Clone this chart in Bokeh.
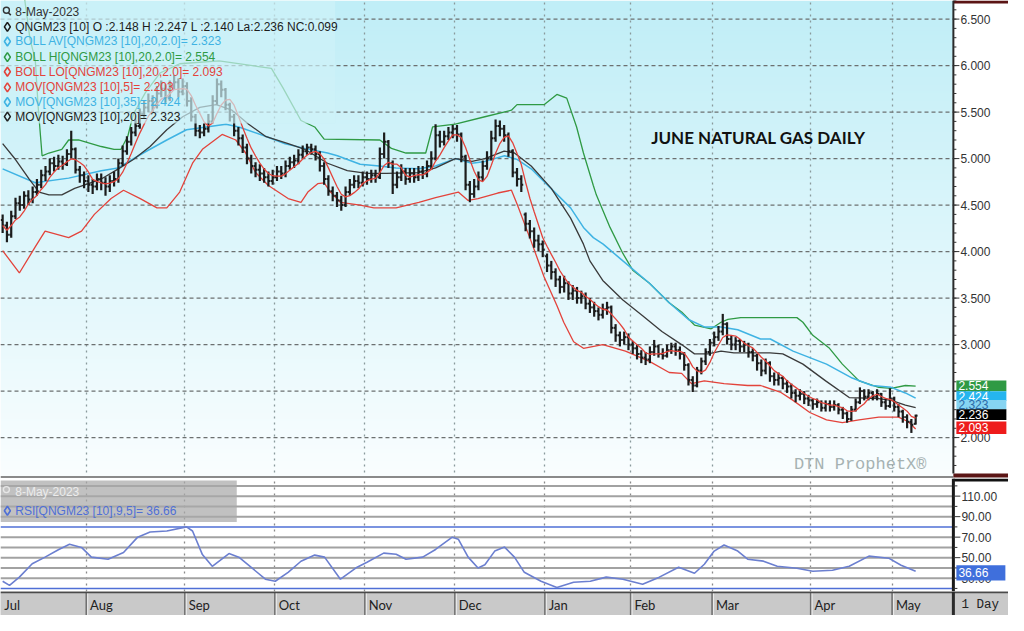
import numpy as np
import pandas as pd
from bokeh.plotting import figure
from bokeh.models import Range1d, FixedTicker, Grid
from bokeh.layouts import column
from bokeh.embed import file_html
from bokeh.resources import INLINE
from bokeh.core.properties import value

# ---------------- data ----------------
months = ["Jul", "Aug", "Sep", "Oct", "Nov", "Dec", "Jan", "Feb", "Mar", "Apr", "May"]
month_start = [0, 20, 43, 64, 85, 106, 127, 147, 166, 189, 208]   # trading-day index of first session

close = [4.28, 4.18, 4.38, 4.52, 4.50, 4.60, 4.56, 4.64, 4.72, 4.82, 4.86, 4.95, 4.92, 4.97, 4.94, 5.05, 5.10, 4.88, 4.82, 4.76,
         4.72, 4.70, 4.78, 4.74, 4.70, 4.76, 4.78, 4.95, 5.08, 5.18, 5.28, 5.35, 5.48, 5.55, 5.62, 5.58, 5.70, 5.75, 5.66, 5.78, 5.82, 5.72, 5.78,
         5.62, 5.45, 5.30, 5.28, 5.32, 5.40, 5.62, 5.80, 5.74, 5.58, 5.45, 5.30, 5.22, 5.12, 5.00, 4.92, 4.88, 4.84, 4.80, 4.76, 4.80,
         4.86, 4.84, 4.92, 4.96, 4.98, 5.04, 5.08, 5.12, 5.10, 5.05, 4.92, 4.78, 4.65, 4.60, 4.55, 4.50, 4.64, 4.72, 4.76, 4.74, 4.80,
         4.78, 4.82, 4.80, 5.05, 5.18, 4.95, 4.72, 4.80, 4.86, 4.78, 4.84, 4.80, 4.86, 4.84, 4.92, 5.00, 5.25, 5.18, 5.24, 5.28, 5.32,
         5.26, 5.02, 4.72, 4.62, 4.70, 4.80, 4.92, 5.00, 5.22, 5.35, 5.32, 5.25, 5.08, 4.85, 4.78, 4.72, 4.30, 4.22, 4.12, 4.08, 4.02,
         3.85, 3.78, 3.70, 3.62, 3.66, 3.55, 3.58, 3.50, 3.52, 3.44, 3.40, 3.36, 3.32, 3.38, 3.40, 3.18, 3.10, 3.05, 3.08, 3.00,
         2.96, 2.90, 2.86, 2.84, 2.92, 2.98, 2.90, 2.88, 2.94, 2.98, 2.94, 2.90, 2.78, 2.62, 2.56, 2.72, 2.82, 2.92, 3.02,
         3.08, 3.14, 3.22, 3.06, 3.00, 3.04, 2.98, 3.00, 2.92, 2.88, 2.80, 2.72, 2.80, 2.66, 2.62, 2.64, 2.58, 2.55, 2.48, 2.45, 2.47, 2.42, 2.40,
         2.36, 2.38, 2.32, 2.36, 2.33, 2.35, 2.30, 2.26, 2.20, 2.30, 2.38, 2.50, 2.44, 2.48, 2.44, 2.47, 2.38, 2.34, 2.42,
         2.33, 2.28, 2.22, 2.17, 2.137, 2.236]

open_ = [4.34, 4.28, 4.18, 4.38, 4.52, 4.50, 4.60, 4.56, 4.64, 4.72, 4.82, 4.86, 4.95, 4.92, 4.97, 4.94, 5.05, 5.10, 4.88, 4.82,
         4.76, 4.72, 4.70, 4.78, 4.74, 4.70, 4.76, 4.78, 4.95, 5.08, 5.18, 5.28, 5.35, 5.48, 5.55, 5.62, 5.58, 5.70, 5.75, 5.66, 5.78, 5.82, 5.72,
         5.78, 5.62, 5.45, 5.30, 5.28, 5.32, 5.40, 5.62, 5.80, 5.74, 5.58, 5.45, 5.30, 5.22, 5.12, 5.00, 4.92, 4.88, 4.84, 4.80, 4.76,
         4.80, 4.86, 4.84, 4.92, 4.96, 4.98, 5.04, 5.08, 5.12, 5.10, 5.05, 4.92, 4.78, 4.65, 4.60, 4.55, 4.50, 4.64, 4.72, 4.76, 4.74,
         4.80, 4.78, 4.82, 4.80, 5.05, 5.18, 4.95, 4.72, 4.80, 4.86, 4.78, 4.84, 4.80, 4.86, 4.84, 4.92, 5.00, 5.25, 5.18, 5.24, 5.28,
         5.32, 5.26, 5.02, 4.72, 4.62, 4.70, 4.80, 4.92, 5.00, 5.22, 5.35, 5.32, 5.25, 5.08, 4.85, 4.78, 4.40, 4.30, 4.22, 4.12, 4.08,
         3.95, 3.85, 3.78, 3.70, 3.62, 3.66, 3.55, 3.58, 3.50, 3.52, 3.44, 3.40, 3.36, 3.32, 3.38, 3.40, 3.18, 3.10, 3.05, 3.08,
         3.00, 2.96, 2.90, 2.86, 2.84, 2.92, 2.98, 2.90, 2.88, 2.94, 2.98, 2.94, 2.90, 2.78, 2.62, 2.56, 2.72, 2.82, 2.92,
         3.02, 3.08, 3.14, 3.22, 3.06, 3.00, 3.04, 2.98, 3.00, 2.92, 2.88, 2.80, 2.72, 2.80, 2.66, 2.62, 2.64, 2.58, 2.55, 2.48, 2.45, 2.47, 2.42,
         2.40, 2.36, 2.38, 2.32, 2.36, 2.33, 2.35, 2.30, 2.26, 2.20, 2.30, 2.38, 2.50, 2.44, 2.48, 2.44, 2.47, 2.38, 2.34,
         2.42, 2.33, 2.28, 2.22, 2.17, 2.148]

high = [4.40, 4.32, 4.44, 4.58, 4.60, 4.65, 4.66, 4.70, 4.78, 4.88, 4.92, 5.00, 5.02, 5.04, 5.03, 5.10, 5.30, 5.12, 4.92, 4.86,
        4.82, 4.78, 4.84, 4.84, 4.80, 4.82, 4.86, 5.00, 5.14, 5.24, 5.34, 5.42, 5.54, 5.62, 5.70, 5.68, 5.78, 5.84, 5.80, 5.84, 5.90, 5.86, 5.86,
        5.82, 5.66, 5.48, 5.36, 5.38, 5.48, 5.68, 5.86, 5.84, 5.76, 5.60, 5.48, 5.34, 5.26, 5.16, 5.04, 4.96, 4.94, 4.90, 4.86, 4.88,
        4.92, 4.92, 4.98, 5.02, 5.04, 5.10, 5.14, 5.16, 5.16, 5.14, 5.08, 4.96, 4.82, 4.70, 4.64, 4.60, 4.70, 4.78, 4.82, 4.82, 4.86,
        4.86, 4.88, 4.88, 5.12, 5.28, 5.20, 4.98, 4.86, 4.94, 4.90, 4.90, 4.90, 4.92, 4.92, 4.98, 5.08, 5.37, 5.30, 5.30, 5.34, 5.36,
        5.36, 5.28, 5.04, 4.76, 4.78, 4.86, 4.98, 5.08, 5.30, 5.42, 5.41, 5.36, 5.28, 5.10, 4.90, 4.82, 4.42, 4.34, 4.26, 4.18, 4.12,
        3.98, 3.90, 3.82, 3.74, 3.74, 3.68, 3.64, 3.62, 3.58, 3.56, 3.50, 3.46, 3.40, 3.44, 3.46, 3.42, 3.22, 3.14, 3.14, 3.12,
        3.04, 3.00, 2.94, 2.92, 2.98, 3.05, 3.00, 2.96, 3.00, 3.02, 3.02, 2.98, 2.92, 2.80, 2.66, 2.76, 2.86, 2.96, 3.06,
        3.14, 3.20, 3.33, 3.24, 3.10, 3.08, 3.06, 3.04, 3.02, 2.96, 2.90, 2.84, 2.85, 2.82, 2.70, 2.70, 2.66, 2.62, 2.58, 2.52, 2.52, 2.50, 2.46,
        2.42, 2.42, 2.40, 2.40, 2.40, 2.40, 2.37, 2.33, 2.28, 2.34, 2.42, 2.54, 2.52, 2.52, 2.50, 2.52, 2.48, 2.42, 2.53,
        2.44, 2.36, 2.30, 2.25, 2.20, 2.247]

low = [4.20, 4.10, 4.15, 4.35, 4.44, 4.46, 4.50, 4.52, 4.60, 4.68, 4.76, 4.82, 4.86, 4.88, 4.88, 4.92, 5.00, 4.84, 4.74, 4.68,
       4.64, 4.62, 4.66, 4.66, 4.60, 4.64, 4.70, 4.74, 4.92, 5.04, 5.14, 5.24, 5.32, 5.44, 5.50, 5.50, 5.54, 5.66, 5.60, 5.62, 5.74, 5.66, 5.68,
       5.56, 5.40, 5.24, 5.22, 5.24, 5.28, 5.38, 5.58, 5.66, 5.52, 5.40, 5.24, 5.14, 5.06, 4.94, 4.84, 4.80, 4.76, 4.74, 4.70, 4.72,
       4.76, 4.78, 4.80, 4.88, 4.90, 4.94, 5.00, 5.04, 5.04, 4.98, 4.86, 4.72, 4.60, 4.54, 4.48, 4.44, 4.48, 4.60, 4.68, 4.68, 4.70,
       4.72, 4.74, 4.74, 4.78, 5.00, 4.90, 4.62, 4.68, 4.76, 4.72, 4.74, 4.74, 4.76, 4.78, 4.80, 4.88, 4.98, 5.12, 5.14, 5.20, 5.22,
       5.18, 4.96, 4.66, 4.53, 4.58, 4.66, 4.76, 4.88, 4.98, 5.18, 5.24, 5.18, 5.02, 4.80, 4.70, 4.64, 4.22, 4.14, 4.04, 4.00, 3.94,
       3.78, 3.70, 3.62, 3.55, 3.56, 3.48, 3.48, 3.44, 3.44, 3.38, 3.34, 3.30, 3.26, 3.28, 3.32, 3.12, 3.03, 2.98, 3.00, 2.94,
       2.90, 2.84, 2.80, 2.78, 2.80, 2.88, 2.86, 2.84, 2.86, 2.90, 2.88, 2.84, 2.72, 2.56, 2.49, 2.54, 2.68, 2.78, 2.88,
       2.98, 3.04, 3.10, 3.00, 2.94, 2.94, 2.92, 2.92, 2.86, 2.82, 2.72, 2.66, 2.68, 2.60, 2.56, 2.56, 2.52, 2.48, 2.42, 2.38, 2.40, 2.36, 2.34,
       2.30, 2.32, 2.28, 2.28, 2.28, 2.29, 2.25, 2.20, 2.16, 2.18, 2.28, 2.36, 2.40, 2.40, 2.40, 2.40, 2.33, 2.30, 2.32,
       2.28, 2.22, 2.16, 2.10, 2.05, 2.140]

# indicator lines (trading-day index, value)
bbh_day = [0, 4.6, 6.4, 7.6, 8.3, 9.2, 10.8, 13.8, 15.4, 17.7, 23, 26, 27.6, 29.2, 30.5, 33.3, 36.7, 41.3, 50.5, 59.7, 62.7,
           65.4, 69.6, 72.8, 75, 88, 90.7, 94.1, 98.7, 100.3, 105.6, 112.5, 118.7, 120, 126.3, 129.3, 131.6, 133.9, 135.5,
           137.8, 138.5, 141.7, 144.7, 147, 150.9, 155.5, 158.4, 161.4, 165.3, 167.6, 169.2, 172.2, 185.3, 186.7, 189,
           192.9, 195.9, 199.8, 204.4, 207.3, 210.6, 213]
bbh_val = [7.3, 6.9, 6.28, 6.07, 5.55, 5.03, 5.06, 5.10, 5.20, 5.20, 5.13, 5.10, 5.10, 5.24, 5.48, 5.71, 5.92, 6.02, 6.05, 5.99, 5.97,
           5.76, 5.41, 5.34, 5.21, 5.20, 5.11, 5.06, 5.06, 5.34, 5.37, 5.45, 5.52, 5.58, 5.58, 5.69, 5.65, 5.34, 5.06,
           4.71, 4.61, 4.26, 3.98, 3.80, 3.66, 3.45, 3.35, 3.21, 3.17, 3.24, 3.27, 3.29, 3.29, 3.24, 3.10,
           2.96, 2.79, 2.61, 2.54, 2.53, 2.56, 2.554]

bbl_day = [0, 3.9, 7.6, 9.9, 15.4, 18.4, 21.4, 25.3, 28.2, 32.1, 36, 38.3, 41.3, 44.3, 46.6, 51.2, 54.4, 56.7, 59, 62, 66.6,
           69.6, 71.2, 73.5, 75, 76.5, 78.8, 83.4, 86.6, 91.8, 97.1, 101, 106.3, 108.6, 110.9, 115.5, 118.7, 120.1, 123.3,
           126.3, 129.3, 130.9, 133.2, 135.5, 140, 145.3, 150.9, 155.5, 158.4, 160.7, 163.7, 168.3, 173.8, 176.8, 181.4,
           184.4, 188.3, 192.2, 195.9, 199.8, 204.4, 209, 211.3, 213]
bbl_val = [4.01, 3.77, 4.05, 4.22, 4.15, 4.22, 4.40, 4.57, 4.66, 4.57, 4.47, 4.47, 4.64, 4.95, 5.10, 5.26, 5.20, 5.06, 4.85, 4.71, 4.57,
           4.53, 4.64, 4.73, 4.74, 4.64, 4.53, 4.50, 4.47, 4.47, 4.53, 4.58, 4.64, 4.55, 4.57, 4.63, 4.66, 4.50, 4.11,
           3.73, 3.42, 3.24, 3.03, 2.96, 3.00, 2.93, 2.82, 2.70, 2.69, 2.58, 2.61, 2.58, 2.56, 2.56, 2.49,
           2.40, 2.27, 2.19, 2.16, 2.19, 2.22, 2.22, 2.17, 2.093]

ma20_day = [0, 3, 6.2, 8.5, 10.8, 13.8, 16.8, 20, 23, 27, 30.5, 34.4, 38.3, 42, 46, 49.8, 53.5, 57.4, 61.3, 66.6, 70.5, 75.8,
            80.4, 85, 89.5, 97, 101, 105.6, 109.5, 112.5, 117, 119.4, 123.3, 128, 132.5, 135.5, 137, 140, 144.7, 149.3,
            153.8, 158.4, 161.4, 164.6, 167.6, 170.6, 179, 182, 186.7, 192, 197.5, 204.4, 207.3, 210.6, 213]
ma20_val = [5.16, 4.99, 4.78, 4.64, 4.61, 4.61, 4.68, 4.73, 4.78, 4.89, 4.99, 5.13, 5.31, 5.45, 5.55, 5.58, 5.52, 5.37, 5.24, 5.16, 5.10, 4.95,
            4.87, 4.84, 4.84, 4.85, 4.90, 5.00, 4.97, 5.00, 5.08, 5.06, 4.92, 4.68, 4.36, 4.08, 3.90, 3.69, 3.48, 3.31,
            3.14, 3.00, 2.90, 2.90, 2.93, 2.91, 2.91, 2.90, 2.79, 2.61, 2.43, 2.42, 2.40, 2.35, 2.323]

ma35_day = [0, 7.6, 15.4, 23, 26.9, 32.8, 38.3, 42.9, 47.5, 52.1, 55.1, 61.3, 65.9, 70.5, 75.8, 78.1, 83.4, 87.9, 91.8, 97.1,
            101, 105.6, 109.5, 112.5, 117.1, 120.1, 123.3, 127.9, 132.5, 135.5, 137.8, 140.1, 144.7, 150.9, 155.5, 160,
            163.7, 167.6, 171.5, 176.8, 179.1, 184.4, 192.2, 198.2, 202.8, 207.3, 210.6, 213]
ma35_val = [4.89, 4.74, 4.79, 4.87, 4.90, 5.06, 5.20, 5.31, 5.34, 5.37, 5.34, 5.24, 5.16, 5.11, 5.06, 5.03, 4.94, 4.92, 4.90, 4.89,
            4.92, 5.00, 4.95, 4.97, 5.03, 4.99, 4.89, 4.68, 4.47, 4.26, 4.15, 4.08, 3.90, 3.66, 3.45, 3.27,
            3.19, 3.19, 3.16, 3.06, 3.06, 2.93, 2.79, 2.64, 2.56, 2.54, 2.48, 2.424]

rsi_day = [0, 1.6, 3.9, 6.9, 9.9, 13.1, 15.6, 18.4, 20.7, 24.6, 28.2, 31.5, 34.4, 38.3, 42.9, 44.3, 46.6, 48.9, 52.8, 55.1,
           59, 61.3, 63.6, 66.6, 69.6, 72.8, 75.1, 78.8, 82.7, 85, 88.9, 91.8, 94.1, 98, 101, 104.9, 106.3, 108.6, 110.9,
           112.5, 114.8, 117.1, 119.4, 121.7, 125.6, 129.3, 133.2, 137.1, 140.8, 144.7, 149.3, 153.2, 157.7, 161.4, 163.7,
           166, 168.3, 171.5, 173.8, 177.5, 180.7, 185.3, 189, 193.6, 197.5, 202.1, 206.7, 209.6, 213]
rsi_val = [27, 23, 31, 44, 50.5, 58, 63, 60, 50.5, 48.5, 55, 70, 75, 76, 80, 76, 53, 41.6, 54, 50.5,
           37, 29, 27, 35.7, 46.5, 52.5, 50.5, 29, 40.7, 45.6, 54.4, 53.4, 48.5, 50.5, 58, 70, 68, 50.5, 40,
           43, 56.4, 60.3, 50.5, 35.7, 27, 21, 26, 27, 31, 29, 24, 31, 40.7, 34.8, 43.6,
           56.4, 62.3, 56.4, 48.5, 46.6, 41.6, 39.7, 36.7, 37.7, 41.6, 51.5, 49.5, 42.6, 36.66]

legend_texts = ["8-May-2023",
                "QNGM23 [10] O :2.148 H :2.247 L :2.140 La:2.236 NC:0.099",
                "BOLL AV[QNGM23 [10],20,2.0]= 2.323",
                "BOLL H[QNGM23 [10],20,2.0]= 2.554",
                "BOLL LO[QNGM23 [10],20,2.0]= 2.093",
                "MOV[QNGM23 [10],5]= 2.203",
                "MOV[QNGM23 [10],35]= 2.424",
                "MOV[QNGM23 [10],20]= 2.323"]
price_tag_text = ["2.554", "2.424", "2.323", "2.236", "2.093"]
price_ticks = [2.0, 2.5, 3.0, 3.5, 4.0, 4.5, 5.0, 5.5, 6.0, 6.5]
price_tick_labels = ["2.000", "2.500", "3.000", "3.500", "4.000", "4.500", "5.000", "5.500", "6.000", "6.500"]
rsi_ticks = [30, 50, 70, 90, 110]
rsi_tick_labels = ["30.00", "50.00", "70.00", "90.00", "110.00"]
rsi_last = "36.66"

# ---------------- geometry helpers (reference pixel -> data) ----------------
FW, PH, RH, SH = 1008, 478, 113, 24
XS, XE = -0.5, 221.8                 # XE = position of the price axis line
REF_W = 968.0
DPX = (XE - XS) / (REF_W * FW / 1024.0)   # data units per screen pixel
SXE = XS + FW * DPX
YMIN, YMAX = 1.56, 6.70
RMIN, RMAX = 17.0, 127.2

def rx(px):
    return XS + px / REF_W * (XE - XS)

def ry(py):
    return YMAX - py / 490.0 * (YMAX - YMIN)

def rr(py):
    return RMAX - (py - 495.0) / 112.0 * (RMAX - RMIN)

BLACK = "#1c1c1c"
CYAN = "#3fb3e3"
GREEN = "#2f9a44"
RED = "#e3433b"
RSI_BLUE = "#6b7fd0"
LINE_BLUE = "#4f6fd6"
FONT = value("Liberation Sans")

days = np.arange(len(close))
month_edges = [m - 0.5 for m in month_start]
xr = Range1d(XS, SXE)

def base_fig(h, yr):
    f = figure(frame_width=FW, frame_height=h, x_range=xr, y_range=yr,
               x_axis_location=None, y_axis_location=None, toolbar_location=None, output_backend="svg",
               min_border_left=0, min_border_right=0, min_border_top=0, min_border_bottom=0,
               background_fill_color="white", border_fill_color="white", outline_line_color=None)
    f.xgrid.visible = False
    f.ygrid.visible = False
    return f

# ---------------- price panel ----------------
p = base_fig(PH, Range1d(YMIN, YMAX))

N = 240
img = np.empty((N, 1), dtype=np.uint32)
view = img.view(dtype=np.uint8).reshape((N, 1, 4))
top_c = np.array([192, 238, 247])
bot_c = np.array([250, 254, 255])
for i in range(N):
    t = i / (N - 1)
    view[i, 0, 0:3] = (bot_c + (top_c - bot_c) * t).astype(np.uint8)
    view[i, 0, 3] = 255
p.image_rgba(image=[img], x=XS, y=YMIN, dw=XE - XS, dh=YMAX - YMIN, level="image")

p.add_layout(Grid(dimension=0, ticker=FixedTicker(ticks=month_edges), grid_line_color="#8a9a9c",
                  grid_line_dash="dotted", grid_line_width=1.3))
p.segment(x0=[XS] * len(price_ticks), y0=price_ticks, x1=[XE] * len(price_ticks), y1=price_ticks,
          line_color="#6c7070", line_dash="4 3", line_width=1.2)

# indicator lines
ma5 = pd.Series(close).rolling(5, min_periods=1).mean().to_numpy()
p.line(bbl_day, bbl_val, line_color=RED, line_width=1.3)
p.line(bbh_day, bbh_val, line_color=GREEN, line_width=1.3)
p.line(ma35_day, ma35_val, line_color=CYAN, line_width=1.5)
p.line(ma20_day, ma20_val, line_color="#3a3a3a", line_width=1.3)

# OHLC bars
p.segment(x0=days, y0=low, x1=days, y1=high, line_color=BLACK, line_width=2.2)
p.segment(x0=days - 0.45, y0=open_, x1=days, y1=open_, line_color=BLACK, line_width=2)
p.segment(x0=days, y0=close, x1=days + 0.45, y1=close, line_color=BLACK, line_width=2)
p.line(days, ma5, line_color=RED, line_width=1.3)

# fading legend panel
p.quad(left=XS, right=rx(340), top=YMAX, bottom=ry(126), fill_color="#cff1f8", fill_alpha=0.68, line_color=None)

leg_colors = ["#333333", BLACK, CYAN, GREEN, RED, RED, CYAN, "#222222"]
leg_y = [12, 27, 42, 58, 73, 89, 104, 119]
ys = [ry(v) for v in leg_y]
p.scatter([rx(7)] * 7, ys[1:], marker="diamond", size=9, fill_color=None, line_color=leg_colors[1:], line_width=1.6)
p.scatter([rx(6)], [ry(10)], marker="circle", size=6, fill_color=None, line_color="#333333", line_width=1.4)
p.segment([rx(8)], [ry(12.5)], [rx(10.5)], [ry(15)], line_color="#333333", line_width=1.6)
p.text([rx(15)] * 8, ys, text=legend_texts, text_color=leg_colors, text_font=FONT, text_font_size="12px",
       text_baseline="middle", text_align="left")

p.text([rx(661)], [ry(140)], text=["JUNE NATURAL GAS DAILY"], text_font=value("Lato"), text_font_style="bold",
       text_font_size="17px", text_color="#111111", text_baseline="middle")
p.text([rx(806)], [ry(476)], text=["DTN ProphetX®"], text_font=value("Liberation Mono"),
       text_font_size="17px", text_color="#a6b2b2", text_baseline="middle")

# separator at the bottom of the price panel, dark bars in the axis column
p.quad(left=[XS], right=[XE], top=[ry(487.5)], bottom=[YMIN], fill_color="#8a8a8a", line_color=None)
p.quad(left=[XE], right=[SXE], top=[ry(485)], bottom=[ry(489)], fill_color="#5b1515", line_color=None)
p.quad(left=[XE], right=[SXE], top=[YMAX], bottom=[ry(3)], fill_color="#5b1515", line_color=None)

# price axis (right)
p.segment(x0=[XE], y0=[ry(485)], x1=[XE], y1=[YMAX], line_color="#2a2a2a", line_width=2)
minor = [round(v, 2) for v in np.arange(1.7, 6.71, 0.1)]
p.segment(x0=[XE] * len(minor), y0=minor, x1=[XE + 3 * DPX] * len(minor), y1=minor, line_color="#333333", line_width=1)
p.segment(x0=[XE] * len(price_ticks), y0=price_ticks, x1=[XE + 6 * DPX] * len(price_ticks), y1=price_ticks,
          line_color="#333333", line_width=1)
p.text([XE + 7 * DPX] * len(price_ticks), price_ticks, text=price_tick_labels, text_font=FONT,
       text_font_size="12px", text_color="#333333", text_baseline="middle")

tag_bg = [GREEN, "#25b5ef", "#86d4f2", "#000000", "#ee1c1c"]
tag_fg = ["white", "white", "#2b6aa8", "white", "white"]
tag_py = [395, 405.5, 414.5, 424.5, 438]
tag_h = [11, 10, 10, 11, 13]
for txt, bg, fg, py, hh in zip(price_tag_text, tag_bg, tag_fg, tag_py, tag_h):
    p.quad(left=[XE + 3 * DPX], right=[XE + 53 * DPX], top=[ry(py - hh / 2)], bottom=[ry(py + hh / 2)],
           fill_color=bg, line_color=None)
    p.text([XE + 5 * DPX], [ry(py)], text=[txt], text_color=fg, text_font=FONT, text_font_size="12px",
           text_baseline="middle")

# ---------------- RSI panel ----------------
r = base_fig(RH, Range1d(RMIN, RMAX))
r.add_layout(Grid(dimension=0, ticker=FixedTicker(ticks=month_edges), grid_line_color="#8a8a8a",
                  grid_line_dash="dotted", grid_line_width=1.3))
gl = [30, 40, 50, 60, 70, 90, 100, 110, 120]
r.segment(x0=[XS] * len(gl), y0=gl, x1=[XE] * len(gl), y1=gl, line_color="#a2a2a2", line_width=2)
r.segment(x0=[XS, XS], y0=[20, 80], x1=[XE, XE], y1=[20, 80], line_color=LINE_BLUE, line_width=1.5)
r.line(rsi_day, rsi_val, line_color=RSI_BLUE, line_width=1.6)

r.quad(left=XS, right=rx(240), top=rr(497), bottom=rr(538), fill_color="#a9a9a9", fill_alpha=0.72, line_color=None)
r.scatter([rx(6)], [rr(506)], marker="circle", size=6, fill_color=None, line_color="#e6e6e6", line_width=1.4)
r.text([rx(15)], [rr(508)], text=["8-May-2023"], text_color="#ececec", text_font=FONT, text_font_size="12px",
       text_baseline="middle")
r.scatter([rx(7)], [rr(527)], marker="diamond", size=9, fill_color=None, line_color=LINE_BLUE, line_width=1.6)
r.text([rx(15)], [rr(527)], text=["RSI[QNGM23 [10],9,5]= 36.66"], text_color=LINE_BLUE, text_font=FONT,
       text_font_size="12px", text_baseline="middle")

# dark bar at the top of the RSI axis column
r.quad(left=[XE], right=[SXE], top=[RMAX], bottom=[rr(498)], fill_color="#111111", line_color=None)

# RSI axis (right)
r.segment(x0=[XE], y0=[RMIN], x1=[XE], y1=[RMAX], line_color="#1a1a1a", line_width=3)
rminor = [20, 40, 60, 80, 100, 120]
r.segment(x0=[XE] * len(rminor), y0=rminor, x1=[XE + 4 * DPX] * len(rminor), y1=rminor, line_color="#333333", line_width=1)
r.segment(x0=[XE] * len(rsi_ticks), y0=rsi_ticks, x1=[XE + 7 * DPX] * len(rsi_ticks), y1=rsi_ticks,
          line_color="#333333", line_width=1)
r.text([XE + 8 * DPX] * len(rsi_ticks), rsi_ticks, text=rsi_tick_labels, text_font=FONT,
       text_font_size="12px", text_color="#333333", text_baseline="middle")
r.quad(left=[XE + 3 * DPX], right=[XE + 52 * DPX], top=[rr(581)], bottom=[rr(596)], fill_color="#3f6fdc", line_color=None)
r.text([XE + 5 * DPX], [rr(588.5)], text=[rsi_last], text_color="white", text_font=FONT, text_font_size="12px",
       text_baseline="middle")

# ---------------- month strip ----------------
s = base_fig(SH, Range1d(0, 1))
s.background_fill_color = "#c9c9c9"
s.segment(x0=month_edges[1:], y0=[0] * 10, x1=month_edges[1:], y1=[1] * 10, line_color="#6e6e6e", line_width=1.5)
s.segment(x0=[m + 0.35 for m in month_edges[1:]], y0=[0] * 10, x1=[m + 0.35 for m in month_edges[1:]], y1=[1] * 10,
          line_color="#ececec", line_width=1)
s.segment(x0=[XS], y0=[0.97], x1=[SXE], y1=[0.97], line_color="#4a4a4a", line_width=2)
s.segment(x0=[XE], y0=[0], x1=[XE], y1=[1], line_color="#2a2a2a", line_width=3)
s.text([m + 0.9 for m in month_edges], [0.42] * len(months), text=months, text_font=value("Lato"),
       text_font_size="13px", text_color="#222222", text_baseline="middle")
s.text([XE + 8 * DPX], [0.42], text=["1 Day"], text_font=value("Liberation Mono"), text_font_size="12.5px",
       text_color="#222222", text_baseline="middle")

layout = column(p, r, s, spacing=0)
open("out.html", "w").write(file_html(layout, INLINE))
